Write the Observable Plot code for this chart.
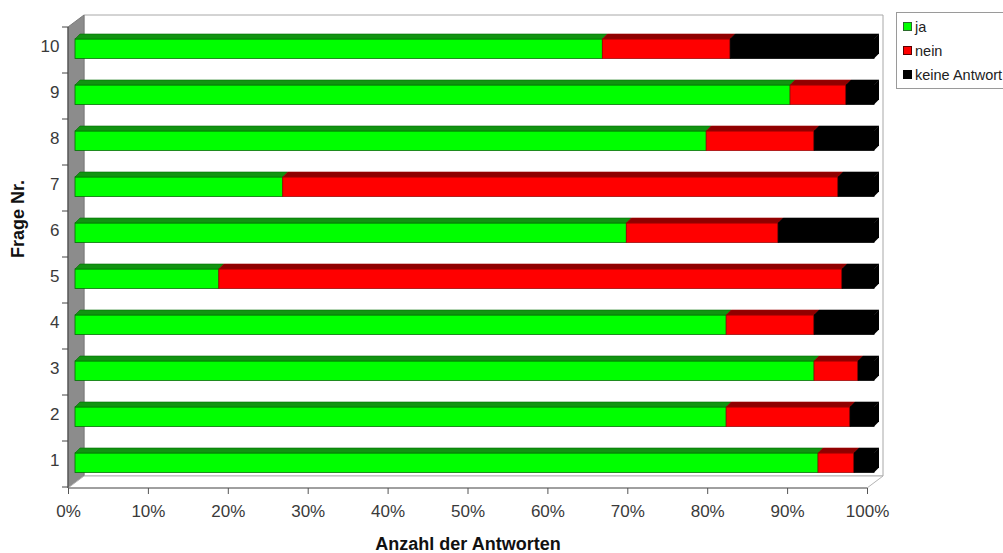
<!DOCTYPE html>
<html>
<head>
<meta charset="utf-8">
<script src="https://cdn.jsdelivr.net/npm/d3@7"></script>
<script src="https://cdn.jsdelivr.net/npm/@observablehq/plot@0.6"></script>
<style>
  body { margin: 0; background: #fff; font-family: Arial, "Liberation Sans", sans-serif; }
  #wrap { position: relative; width: 1003px; height: 553px; overflow: hidden; }
  #legend { position: absolute; left: 896px; top: 12px; width: 140px; height: 75px;
            border: 1px solid #9a9a9a; background: #fff; font-size: 14.5px; color: #222; }
  .item { position: absolute; left: 6px; height: 20px; line-height: 20px; white-space: nowrap; }
  .sw { display: inline-block; width: 7px; height: 7px; margin-right: 3px; vertical-align: 1px; }
</style>
</head>
<body>
<div id="wrap">
  <div id="chart"></div>
  <div id="legend"></div>
</div>
<script>
// ---- data ----
const questions = ["1", "2", "3", "4", "5", "6", "7", "8", "9", "10"];
const series = ["ja", "nein", "keine Antwort"];
const ja    = [93, 81.5, 92.5, 81.5, 18, 69, 26, 79, 89.5, 66];
const nein  = [4.5, 15.5, 5.5, 11, 78, 19, 69.5, 13.5, 7, 16];
const keine = [2.5, 3, 2, 7.5, 4, 12, 4.5, 7.5, 3.5, 18];
const xTicks = [0, 10, 20, 30, 40, 50, 60, 70, 80, 90, 100];
const xTitle = "Anzahl der Antworten";
const yTitle = "Frage Nr.";

// ---- styles ----
const frontColors = ["#00ff00", "#ff0000", "#000000"];
const edgeColors  = ["#006f00", "#a00000", "#000000"];
const topColors   = ["#119311", "#8f0000", "#000000"];
const swatchEdge  = ["#2a6a2a", "#5a0000", "#000000"];

// stacked segments
const values = [ja, nein, keine];
const segments = [];
questions.forEach((q, i) => {
  let acc = 0;
  series.forEach((s, k) => {
    const v = values[k][i];
    segments.push({q, series: s, k, x1: acc, x2: acc + v, last: k === series.length - 1});
    acc += v;
  });
});

const W = 1003, H = 553;
const mLeft = 68, mRight = 136, mTop = 27, mBottom = 65;
const barDx = 7;          // bars sit half-way into the depth
const insetTop = 11, frontH = 19.5;
const depth = 5;          // bar top face depth
const boxDx = 16, boxDy = -12;
const NS = "http://www.w3.org/2000/svg";

function el(name, attrs) {
  const e = document.createElementNS(NS, name);
  for (const k in attrs) e.setAttribute(k, attrs[k]);
  return e;
}
function pts(a) { return a.map(p => p.join(",")).join(" "); }
function bandwidthOf(y, dim) {
  return y.bandwidth ? y.bandwidth() : (dim.height - dim.marginTop - dim.marginBottom) / questions.length;
}

// 3D box: back wall, left wall, floor, front axis lines, y ticks
function box(index, scales, vals, dim) {
  const {x, y} = scales;
  const X0 = x(0), X1 = x(100);
  const Y0 = dim.marginTop, Y1 = dim.height - dim.marginBottom;
  const bw = bandwidthOf(y, dim);
  const g = el("g", {});
  g.appendChild(el("polygon", {points: pts([[X0+boxDx, Y0+boxDy], [X1+boxDx, Y0+boxDy], [X1+boxDx, Y1+boxDy], [X0+boxDx, Y1+boxDy]]), fill: "#fff", stroke: "#a8a8a8"}));
  g.appendChild(el("polygon", {points: pts([[X0, Y0], [X0+boxDx, Y0+boxDy], [X0+boxDx, Y1+boxDy], [X0, Y1]]), fill: "#8c8c8c", stroke: "#7a7a7a"}));
  g.appendChild(el("polygon", {points: pts([[X0, Y1], [X1, Y1], [X1+boxDx, Y1+boxDy], [X0+boxDx, Y1+boxDy]]), fill: "#fff", stroke: "#b4b4b4"}));
  g.appendChild(el("line", {x1: X0, x2: X0, y1: Y0, y2: Y1, stroke: "#444"}));
  g.appendChild(el("line", {x1: X0, x2: X1, y1: Y1, y2: Y1, stroke: "#666"}));
  for (let i = 0; i <= questions.length; i++) {
    const yy = Y0 + i * bw;
    g.appendChild(el("line", {x1: X0 - 6, x2: X0, y1: yy, y2: yy, stroke: "#444"}));
  }
  return g;
}

// bar top faces and right side face
function tops(index, scales, vals, dim) {
  const {x, y} = scales;
  const g = el("g", {});
  segments.forEach(s => {
    const yt = y(s.q) + insetTop, yb = yt + frontH;
    const xa = x(s.x1) + barDx, xb = x(s.x2) + barDx;
    g.appendChild(el("polygon", {points: pts([[xa, yt], [xb, yt], [xb+depth, yt-depth], [xa+depth, yt-depth]]), fill: topColors[s.k], stroke: edgeColors[s.k], "stroke-width": 0.6}));
    if (s.last) {
      g.appendChild(el("polygon", {points: pts([[xb, yt], [xb+depth, yt-depth], [xb+depth, yb-depth], [xb, yb]]), fill: topColors[s.k]}));
    }
  });
  return g;
}

const bandH = (H - mTop - mBottom) / questions.length;

const chart = Plot.plot({
  width: W, height: H,
  marginLeft: mLeft, marginRight: mRight, marginTop: mTop, marginBottom: mBottom,
  style: {fontFamily: "Arial, 'Liberation Sans', sans-serif", color: "#3a3a3a", background: "#fff"},
  x: {domain: [0, 100]},
  y: {type: "band", domain: [...questions].reverse(), padding: 0},
  marks: [
    box,
    ...series.map((s, k) => Plot.barX(segments.filter(d => d.k === k), {
      x1: "x1", x2: "x2", y: "q",
      fill: frontColors[k], stroke: edgeColors[k], strokeWidth: 0.8,
      insetTop: insetTop, insetBottom: bandH - insetTop - frontH, dx: barDx
    })),
    tops,
    Plot.axisX({ticks: xTicks, tickFormat: d => d + "%", tickSize: 6, tickPadding: 10, fontSize: 17, label: null, stroke: "#555"}),
    Plot.axisY({tickSize: 0, tickPadding: 9, fontSize: 17, dy: -5, label: null}),
    Plot.text([xTitle], {frameAnchor: "bottom", dy: 61, fontSize: 18, fontWeight: "bold", fill: "#111"}),
    Plot.text([yTitle], {frameAnchor: "left", dx: -50, rotate: -90, fontSize: 18, fontWeight: "bold", fill: "#111"})
  ]
});
document.getElementById("chart").appendChild(chart);

// legend
const legend = document.getElementById("legend");
series.forEach((s, k) => {
  const it = document.createElement("div");
  it.className = "item";
  it.style.top = (4 + k * 24) + "px";
  const sw = document.createElement("span");
  sw.className = "sw";
  sw.style.background = frontColors[k];
  sw.style.border = "1px solid " + swatchEdge[k];
  it.appendChild(sw);
  it.appendChild(document.createTextNode(s));
  legend.appendChild(it);
});
</script>
</body>
</html>
